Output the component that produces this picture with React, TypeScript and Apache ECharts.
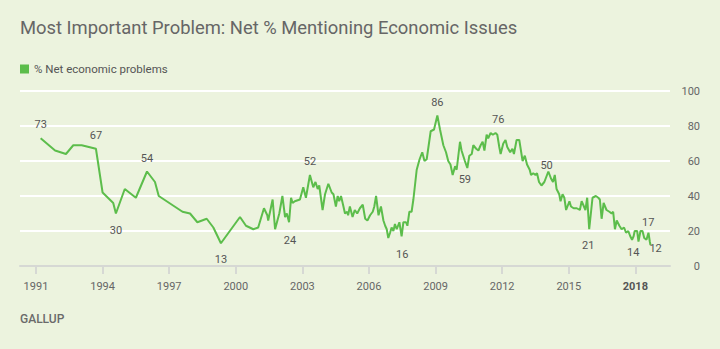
import React, { useEffect, useRef } from "react";
import * as echarts from "echarts";

const years: number[] = [
  1991.21, 1991.86, 1992.35, 1992.68, 1993.06, 1993.7, 1994.0, 1994.48, 1994.6, 1995.0,
  1995.5, 1996.0, 1996.36, 1996.53, 1997.6, 1997.94, 1998.27, 1998.69, 1998.99, 1999.33,
  2000.19, 2000.46, 2000.79, 2001.01, 2001.27, 2001.42, 2001.46, 2001.66, 2001.77, 2001.96,
  2002.1, 2002.22, 2002.3, 2002.4, 2002.49, 2002.56, 2002.66, 2002.89, 2003.04, 2003.16,
  2003.34, 2003.49, 2003.59, 2003.69, 2003.76, 2003.91, 2004.02, 2004.17, 2004.32, 2004.4,
  2004.51, 2004.59, 2004.66, 2004.74, 2004.85, 2004.92, 2005.02, 2005.06, 2005.14, 2005.26,
  2005.36, 2005.47, 2005.59, 2005.72, 2005.83, 2005.93, 2006.05, 2006.17, 2006.24, 2006.32,
  2006.43, 2006.54, 2006.65, 2006.73, 2006.8, 2006.87, 2006.95, 2007.02, 2007.1, 2007.17,
  2007.25, 2007.37, 2007.47, 2007.55, 2007.67, 2007.73, 2007.82, 2007.92, 2008.0, 2008.08,
  2008.15, 2008.28, 2008.4, 2008.5, 2008.6, 2008.78, 2008.93, 2009.08, 2009.2, 2009.35,
  2009.47, 2009.57, 2009.67, 2009.77, 2009.88, 2009.95, 2010.1, 2010.17, 2010.32, 2010.43,
  2010.52, 2010.63, 2010.7, 2010.83, 2010.93, 2011.03, 2011.12, 2011.2, 2011.3, 2011.37,
  2011.48, 2011.58, 2011.7, 2011.78, 2011.87, 2011.93, 2012.05, 2012.15, 2012.23, 2012.36,
  2012.46, 2012.53, 2012.65, 2012.77, 2012.92, 2013.02, 2013.12, 2013.24, 2013.3, 2013.4,
  2013.5, 2013.57, 2013.66, 2013.77, 2013.9, 2014.08, 2014.2, 2014.29, 2014.37, 2014.45,
  2014.57, 2014.63, 2014.72, 2014.8, 2014.88, 2015.03, 2015.1, 2015.22, 2015.36, 2015.5,
  2015.58, 2015.65, 2015.75, 2015.83, 2015.92, 2016.07, 2016.22, 2016.33, 2016.4, 2016.48,
  2016.57, 2016.7, 2016.83, 2016.93, 2017.0, 2017.08, 2017.16, 2017.28, 2017.38, 2017.49,
  2017.58, 2017.68, 2017.77, 2017.85, 2017.92, 2017.97, 2018.08, 2018.14, 2018.23, 2018.32,
  2018.4, 2018.5, 2018.59, 2018.65, 2018.68,
];

const netEconomic: number[] = [
  73, 66, 64, 69, 69, 67, 42, 36, 30, 44,
  39, 54, 48, 40, 31, 30, 25, 27, 22, 13,
  28, 23, 21, 22, 33, 29, 26, 38, 21, 30,
  40, 28, 30, 25, 39, 36, 37, 38, 45, 39,
  52, 45, 48, 44, 46, 32, 41, 47, 42, 41,
  34, 40, 37, 40, 34, 30, 31, 29, 34, 28,
  32, 30, 33, 35, 27, 26, 29, 31, 34, 40,
  29, 34, 26, 23, 21, 16, 19, 22, 20, 24,
  21, 25, 17, 25, 25, 23, 31, 31, 38, 47,
  55, 61, 65, 60, 61, 77, 78, 86, 78, 69,
  65, 60, 58, 52, 57, 55, 71, 66, 60, 56,
  63, 64, 69, 67, 66, 69, 71, 66, 75, 73,
  76, 75, 76, 75, 68, 64, 70, 72, 68, 65,
  67, 64, 72, 72, 60, 63, 58, 55, 52, 53,
  52, 53, 48, 46, 48, 54, 50, 48, 52, 44,
  41, 37, 41, 39, 32, 37, 34, 33, 33, 32,
  37, 35, 32, 39, 21, 39, 40, 39, 38, 27,
  36, 32, 31, 30, 31, 21, 26, 23, 21, 22,
  19, 20, 17, 15, 17, 20, 20, 14, 20, 20,
  16, 15, 19, 14, 12,
];

const tickYears: number[] = [1991, 1994, 1997, 2000, 2003, 2006, 2009, 2012, 2015, 2018];

// annotated values: x position (year), value shown, side of the line
const noteYears: number[] = [1991.21, 1993.7, 1994.6, 1996.0, 1999.33, 2002.44, 2003.34, 2007.5, 2009.08, 2010.32, 2011.82, 2014.0, 2015.88, 2017.9, 2018.58, 2018.91];
const noteValues: number[] = [73, 67, 30, 54, 13, 24, 52, 16, 86, 59, 76, 50, 21, 14, 17, 12];
const noteSides: string[] = ["top", "top", "bottom", "top", "bottom", "bottom", "top", "bottom", "top", "bottom", "top", "top", "bottom", "bottom", "top", "inside"];

const GREEN = "#5cbd4b";
const FONT = "Roboto, 'Noto Sans', sans-serif";

export default function App() {
  const ref = useRef<HTMLDivElement>(null);
  useEffect(() => {
    if (!ref.current) return;
    const chart = echarts.init(ref.current, undefined, { renderer: "svg" });
    const data = years.map((y, i) => [y, netEconomic[i]]);
    const marks = noteYears.map((y, i) => {
      const side = noteSides[i];
      const label: any = { position: side === "inside" ? "inside" : side, distance: side === "top" ? 8 : 11 };
      if (side === "inside") label.offset = [0, 3];
      if (side === "bottom" && noteValues[i] === 14) label.distance = 5;
      return { coord: [y, noteValues[i]], value: noteValues[i], label };
    });
    chart.setOption({
      animation: false,
      backgroundColor: "#ecf3de",
      title: {
        text: "Most Important Problem: Net % Mentioning Economic Issues",
        left: 15,
        top: 13,
        textStyle: { fontFamily: FONT, fontSize: 18.4, fontWeight: "normal", color: "#666666" },
      },
      legend: {
        left: 15,
        top: 58,
        icon: "rect",
        itemWidth: 9,
        itemHeight: 9,
        itemGap: 5,
        textStyle: { fontFamily: FONT, fontSize: 11.5, color: "#555555" },
        data: ["% Net economic problems"],
      },
      grid: { left: 20, right: 50, top: 91, bottom: 83 },
      xAxis: {
        type: "value",
        min: 1990.28,
        max: 2019.56,
        splitLine: { show: false },
        axisLine: { show: true, lineStyle: { color: "#d6d8d4", width: 2 } },
        axisTick: { show: true, length: 8, customValues: tickYears, lineStyle: { color: "#d6d8d4", width: 2 } },
        axisLabel: {
          customValues: tickYears,
          margin: 15,
          fontFamily: FONT,
          fontSize: 11,
          color: "#666666",
          formatter: (v: number) => (Math.round(v) === 2018 ? "{b|" + Math.round(v) + "}" : String(Math.round(v))),
          rich: { b: { fontFamily: FONT, fontSize: 11, fontWeight: "bold", color: "#555555" } },
        },
      },
      yAxis: {
        type: "value",
        position: "right",
        min: 0,
        max: 100,
        interval: 20,
        axisLine: { show: false },
        axisTick: { show: false },
        splitLine: { show: true, lineStyle: { color: "#ffffff", width: 2 } },
        axisLabel: { align: "right", margin: 30, fontFamily: FONT, fontSize: 11, color: "#666666" },
      },
      graphic: [
        {
          type: "text",
          left: 20,
          top: 313,
          style: { text: "GALLUP", fontFamily: FONT, fontSize: 12, fontWeight: 500, fill: "#6a6a6a" },
        },
      ],
      series: [
        {
          name: "% Net economic problems",
          type: "line",
          data,
          showSymbol: false,
          symbol: "none",
          color: GREEN,
          lineStyle: { color: GREEN, width: 2 },
          emphasis: { disabled: true },
          z: 3,
          markPoint: {
            symbol: "circle",
            symbolSize: 0,
            silent: true,
            label: { show: true, fontFamily: FONT, fontSize: 11, color: "#555555", formatter: "{c}" },
            data: marks,
          },
        },
      ],
    });
    return () => chart.dispose();
  }, []);
  return <div ref={ref} style={{ position: "fixed", left: 0, top: 0, width: 720, height: 349 }} />;
}
